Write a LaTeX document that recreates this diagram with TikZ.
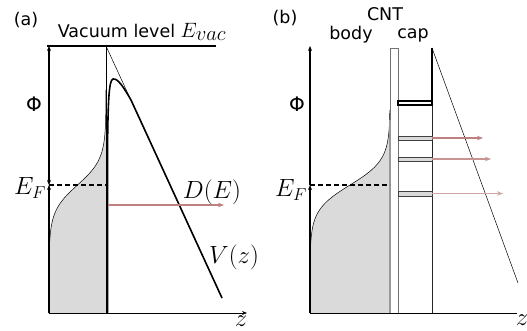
\documentclass[tikz,border=0pt]{standalone}
\usepackage{fontspec}
\newfontfamily\labelfont{DejaVu Sans}
\usetikzlibrary{arrows.meta,calc,positioning}
\definecolor{emitred}{RGB}{190,128,128}
\definecolor{fermigray}{RGB}{218,218,218}

\begin{document}
\begin{tikzpicture}[x=1pt,y=-1pt,
txt/.style={font=\labelfont\fontsize{17.5}{21}\selectfont, inner sep=0pt},
mth/.style={font=\fontsize{24}{28}\selectfont, inner sep=0pt},
phi/.style={font=\labelfont\fontsize{20}{24}\selectfont, inner sep=0pt},
axis/.style={line width=1.4pt},
tip/.style={-{Stealth[length=5pt,width=4pt]}},
beam/.style={emitred, line width=1.6pt, -{Stealth[length=6pt,width=4.5pt]}},
level/.style={draw=black!75, fill=fermigray, line width=0.8pt}]
\useasboundingbox (0,0) rectangle (527,331);

% (a) metal surface
\coordinate (aO) at (49,313);
\coordinate (aT) at (49,46);
\coordinate (aF) at (49,185);
\coordinate (aZ) at (247,313);
\coordinate (aW) at (106,313);
\coordinate (aWt) at (106,46);
\coordinate (aWf) at (106,185);
\coordinate (aV0) at (47,46);
\coordinate (aV) at (216,46);
\coordinate (aP) at (113,79);
\coordinate (aS) at (222,298);
\coordinate (aD0) at (108,205);
\coordinate (aD) at (224,205);

\fill[fermigray] (aO) -- plot[domain=290:90,samples=80] ({49+57/(1+exp((\x-185)/13))},\x) -- (106,90) -- (aW) -- cycle;
\draw[line width=0.5pt] plot[domain=290:90,samples=80] ({49+57/(1+exp((\x-185)/13))},\x);
\draw[line width=0.6pt] (aWt) -- (aW);
\draw[line width=0.5pt] (aWt) -- (aS);
\draw[line width=1.6pt] (107.5,313) -- (107.5,150) .. controls (108,100) and (109,80) .. (aP) .. controls (118,78) and (124,88) .. (131,100) -- (aS);
\draw[line width=1.5pt] (aV0) -- (aV);
\draw[line width=1.1pt, dash pattern=on 5pt off 3pt] (aF) -- (aWf);
\draw[axis, {Stealth[length=5pt,width=4pt]}-{Stealth[length=5pt,width=4pt]}] (aF) -- (aT);
\draw[axis, tip] (aO) -- (aF);
\draw[line width=1pt, tip] (aO) -- (aZ);
\draw[beam] (aD0) -- (aD);

\node[txt] (la) at (26,20) {(a)};
\node[txt] (lvac) at (142,32) {Vacuum level \fontsize{22}{26}\selectfont$E_{\textstyle vac}$};
\node[phi] (lphia) at (34,104) {Φ};
\node[mth] (lefa) at (30,188) {$E_F$};
\node[mth] (lde) at (212,192) {$D(E)$};
\node[mth] (lvz) at (234,257) {$V(z)$};
\node[mth] (lza) at (241,321) {$z$};

% (b) CNT body and cap
\coordinate (bO) at (310,313);
\coordinate (bT) at (310,46);
\coordinate (bF) at (310,185);
\coordinate (bZ) at (517,313);
\coordinate (bBf) at (390,185);
\coordinate (bC) at (432,48);
\coordinate (bCm) at (432,105);
\coordinate (bCb) at (432,313);
\coordinate (bS) at (518,283);

\fill[fermigray] (bO) -- plot[domain=290:110,samples=80] ({310+80/(1+exp((\x-185)/12.5))},\x) -- (390,110) -- (390,313) -- cycle;
\draw[line width=0.5pt] plot[domain=290:110,samples=80] ({310+80/(1+exp((\x-185)/12.5))},\x);
\draw[draw=black!55, fill=white, line width=0.9pt] (390,48) rectangle (398,313);
\draw[black!40, line width=1.6pt] (390,120) -- (390,313);
\draw[line width=1.5pt] (bC) -- (bCm);
\draw[line width=0.7pt, black!85] (bCm) -- (bCb);
\draw[line width=0.5pt] (bC) -- (bS);
\draw[level, fill=white, draw=black, line width=1.2pt] (398,101) rectangle (bCm);
\draw[level] (398,136) rectangle (432,140);
\draw[level] (398,157) rectangle (432,161);
\draw[level] (398,191) rectangle (432,196);
\draw[beam] (432,138) -- (483,138);
\draw[beam, emitred!85, line width=1.3pt] (432,159) -- (491,159);
\draw[beam, emitred!70, line width=1pt] (432,193.5) -- (503,193.5);
\draw[line width=1.1pt, dash pattern=on 5pt off 3pt] (bF) -- (bBf);
\draw[axis, tip] (bO) -- (bF);
\draw[axis, tip] (bF) -- (bT);
\draw[line width=1pt] (bO) -- (bZ);

\node[txt] (lb) at (285,18) {(b)};
\node[txt] (lcnt) at (385,14) {CNT};
\node[txt] (lbody) at (351,35) {body};
\node[txt] (lcap) at (413,35) {cap};
\node[phi] (lphib) at (297,104) {Φ};
\node[mth] (lefb) at (291,190) {$E_F$};
\node[mth] (lzb) at (522,320) {$z$};
\end{tikzpicture}
\end{document}
